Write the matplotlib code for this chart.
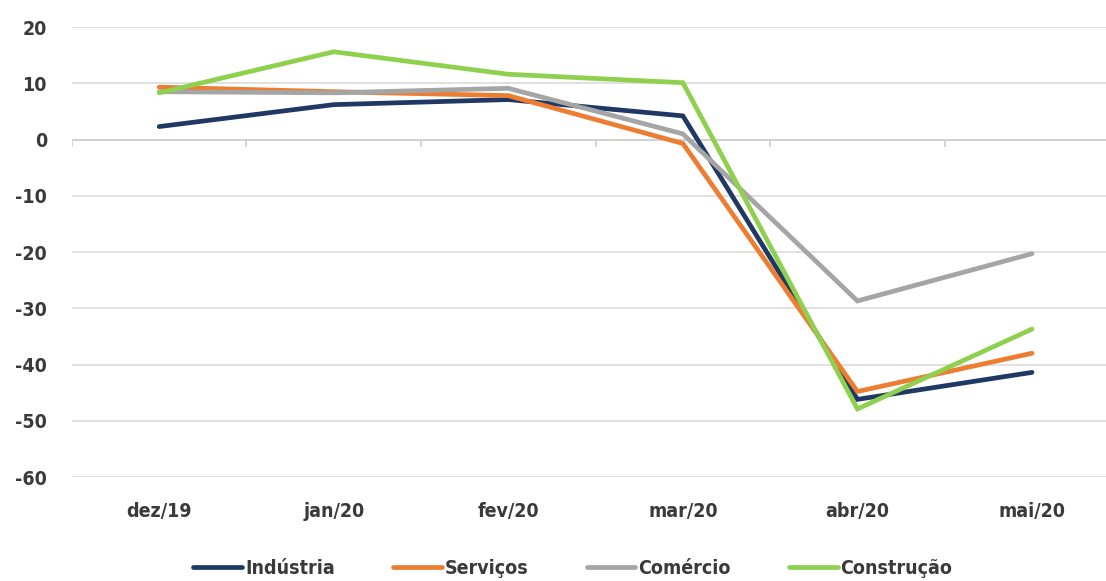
import matplotlib.pyplot as plt
import numpy as np

plt.rcParams["axes.unicode_minus"] = False

# dados
meses = ["dez/19", "jan/20", "fev/20", "mar/20", "abr/20", "mai/20"]
industria = [2.3, 6.2, 7.1, 4.2, -46.2, -41.4]
servicos = [9.3, 8.5, 7.8, -0.7, -44.8, -38.0]
comercio = [8.5, 8.3, 9.1, 1.0, -28.7, -20.3]
construcao = [8.3, 15.6, 11.6, 10.1, -47.9, -33.7]

series = [
    ("Indústria", industria, "#1f3864"),
    ("Serviços", servicos, "#ed7d31"),
    ("Comércio", comercio, "#a5a5a5"),
    ("Construção", construcao, "#8fd14f"),
]

fonte = ["Liberation Sans Narrow", "DejaVu Sans"]
cor_texto = "#3a3a3a"

fig = plt.figure(figsize=(11.06, 5.81), dpi=100)
ax = fig.add_axes([0.065, 0.179, 0.947, 0.7745])

x = np.arange(len(meses))
for nome, valores, cor in series:
    ax.plot(x, valores, color=cor, linewidth=3.4, label=nome,
            solid_joinstyle="miter", solid_capstyle="round")

ax.set_xlim(-0.5, len(meses) - 0.5)
ax.set_ylim(-60, 20)
ax.set_yticks(range(-60, 21, 10))
ax.yaxis.grid(True, color="#dcdcdc", linewidth=1.2)
ax.set_axisbelow(True)

# eixo das categorias em y=0, com tracinhos entre os meses
ax.axhline(0, color="#d0d0d0", linewidth=1.2, zorder=1)
ax.vlines(np.arange(len(meses)) - 0.5, -1.3, 0, color="#d0d0d0", linewidth=1.2, zorder=1)

ax.set_xticks(x)
ax.set_xticklabels(meses)
for s in ax.spines.values():
    s.set_visible(False)
ax.tick_params(axis="both", length=0, colors=cor_texto)
ax.tick_params(axis="x", pad=18)
ax.tick_params(axis="y", pad=18)
for lbl in ax.get_xticklabels() + ax.get_yticklabels():
    lbl.set_family(fonte)
    lbl.set_fontweight("bold")
    lbl.set_fontstretch("condensed")
    lbl.set_fontsize(14)

leg = fig.legend(loc="center", bbox_to_anchor=(0.518, 0.022), ncol=4, frameon=False,
                 handlelength=2.5, columnspacing=3.0, handletextpad=0.15,
                 prop={"family": fonte, "weight": "bold", "stretch": "condensed", "size": 14})
for t in leg.get_texts():
    t.set_color(cor_texto)

fig.savefig("out.png", dpi=100)
